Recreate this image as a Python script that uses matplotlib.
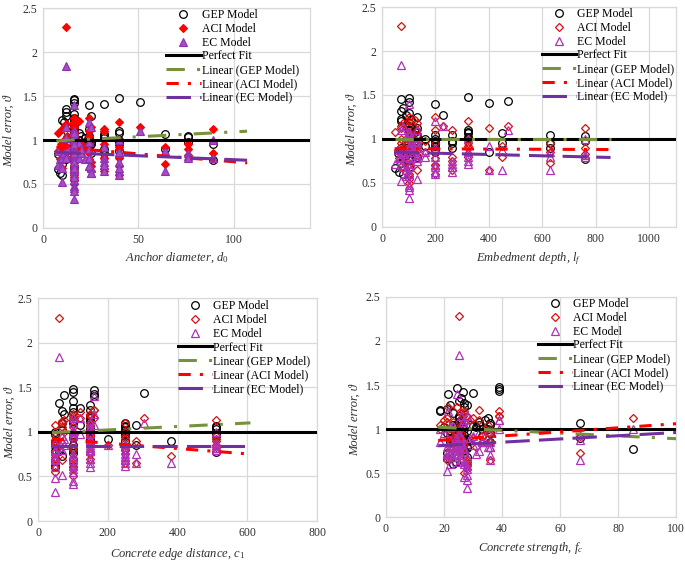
import matplotlib
matplotlib.use('Agg')
import matplotlib.pyplot as plt

plt.rcParams['font.family'] = ['Liberation Serif', 'DejaVu Serif']
plt.rcParams['mathtext.fontset'] = 'custom'
plt.rcParams['mathtext.rm'] = 'Liberation Serif'
plt.rcParams['mathtext.it'] = 'Liberation Serif:italic'

# Model error of each test specimen
gep = [0.67, 0.84, 0.62, 0.90, 1.23, 0.60, 1.20, 1.32, 1.27, 0.78, 1.10,
       1.47, 1.45, 1.30, 1.22, 1.15, 1.10, 1.05, 1.00, 0.95, 0.90, 0.85,
       0.80, 0.78, 0.76, 0.88, 1.02, 1.08, 1.00, 0.92, 1.02, 1.40, 1.05,
       1.00, 0.95, 1.27, 0.98, 0.96, 1.41, 1.07, 1.02, 0.85, 1.05, 1.48,
       1.10, 1.08, 0.95, 0.88, 0.98, 1.43, 1.07, 0.90, 1.05, 1.03, 0.98,
       0.95, 0.77,
       1.12, 0.98, 0.93, 0.87, 1.18, 0.82, 1.35, 0.97, 0.73, 1.25, 1.05,
       0.92, 1.12, 0.85, 1.42, 0.68, 1.00, 0.90]
aci = [1.08, 0.88, 0.78, 0.95, 1.12, 0.90, 1.00, 2.28, 0.93, 0.85, 1.05,
       1.25, 1.15, 1.20, 1.05, 0.98, 0.95, 0.88, 0.85, 0.80, 0.75, 0.70,
       0.65, 0.55, 0.50, 0.60, 1.10, 1.22, 0.98, 0.85, 0.90, 1.25, 1.10,
       0.95, 0.85, 1.15, 0.75, 0.65, 1.13, 0.95, 0.80, 0.65, 1.10, 1.20,
       1.00, 0.90, 0.80, 0.70, 0.60, 1.15, 0.92, 0.73, 0.95, 0.90, 0.83,
       0.85, 1.13,
       1.00, 0.90, 0.82, 0.72, 1.08, 0.62, 1.18, 0.87, 0.68, 1.18, 0.96,
       0.78, 1.05, 0.70, 1.15, 0.58, 0.92, 0.80]
ec = [0.72, 0.87, 0.78, 0.70, 0.80, 0.68, 0.85, 1.84, 1.02, 0.83, 0.90,
      1.40, 1.10, 1.05, 1.00, 0.92, 0.88, 0.82, 0.78, 0.72, 0.65, 0.60,
      0.55, 0.48, 0.45, 0.33, 0.95, 0.97, 0.80, 0.85, 0.78, 1.20, 0.90,
      0.80, 0.70, 1.15, 0.62, 0.68, 0.92, 0.80, 0.72, 0.65, 0.75, 1.00,
      0.85, 0.75, 0.65, 0.60, 0.68, 1.10, 0.88, 0.65, 0.85, 0.82, 0.80,
      0.80, 1.00,
      0.95, 0.85, 0.75, 0.68, 1.03, 0.58, 1.15, 0.80, 0.52, 1.10, 0.90,
      0.70, 0.98, 0.62, 1.08, 0.42, 0.86, 0.72]

# Specimen parameters
d0 = [8, 8, 9, 9.5, 10, 10, 11, 12, 12, 12, 12.7,
      16, 16, 16, 16, 16, 16, 16, 16, 16, 16, 16,
      16, 16, 16, 16, 16, 19, 19, 20, 22, 24, 24,
      24, 24, 25, 25, 25, 32, 32, 32, 32, 32, 40,
      40, 40, 40, 40, 40, 51, 64, 64, 76, 76, 76,
      89, 89,
      16, 16, 16, 16, 16, 16, 12, 12, 10, 16, 20,
      24, 24, 25, 16, 16, 40, 32]
lf = [50, 60, 65, 70, 70, 80, 70, 70, 90, 80, 100,
      100, 70, 100, 110, 100, 125, 130, 100, 110, 90, 100,
      130, 100, 100, 100, 130, 125, 160, 160, 130, 200, 200,
      200, 200, 230, 260, 260, 400, 320, 320, 400, 260, 320,
      320, 320, 450, 200, 200, 470, 450, 630, 630, 760, 760,
      630, 760,
      110, 120, 130, 100, 100, 90, 80, 90, 70, 130, 130,
      200, 130, 200, 100, 100, 320, 260]
c1 = [50, 50, 50, 50, 70, 50, 75, 60, 100, 60, 70,
      160, 100, 150, 100, 150, 100, 150, 50, 100, 150, 50,
      100, 50, 100, 50, 70, 120, 150, 200, 150, 160, 150,
      150, 150, 120, 250, 250, 75, 250, 250, 280, 250, 100,
      250, 280, 250, 150, 100, 305, 510, 380, 510, 510, 510,
      510, 510,
      100, 150, 100, 50, 150, 100, 100, 50, 70, 150, 150,
      150, 150, 100, 160, 100, 250, 250]
fc = [21, 22, 24, 22, 21, 23, 18.5, 25, 22, 24, 26,
      24.5, 39, 27, 18.5, 25, 26, 23, 27, 24, 26, 22,
      28, 28, 27, 28, 20, 32, 25, 33, 24, 21.5, 29,
      35, 36, 28, 25, 21, 30, 36, 31, 36, 32, 39,
      34, 25, 26, 27, 28, 39, 67, 67, 36, 30, 22,
      36, 85,
      25, 26, 27, 24, 23, 28, 26, 25, 21, 27, 24,
      26, 35, 27, 26.5, 28, 33, 22]

# Linear trendlines (end points)
d0_trend_x = [7, 107]
d0_trend_gep = [0.99, 1.10]
d0_trend_aci = [0.92, 0.74]
d0_trend_ec = [0.86, 0.77]
lf_trend_x = [47, 855]
lf_trend_gep = [1.00, 1.00]
lf_trend_aci = [0.89, 0.88]
lf_trend_ec = [0.85, 0.79]
c1_trend_x = [40, 609]
c1_trend_gep = [0.99, 1.10]
c1_trend_aci = [0.92, 0.75]
c1_trend_ec = [0.84, 0.84]
fc_trend_x = [18, 100]
fc_trend_gep = [1.02, 0.89]
fc_trend_aci = [0.87, 1.06]
fc_trend_ec = [0.81, 0.96]

GREEN = '#76923C'
RED = '#FF0000'
PURPLE = '#7030A0'
EC_OPEN = '#B030B8'
ACI_OPEN = '#D81010'

panels = [
    dict(x=d0, xmax=140, step=50, tx=d0_trend_x, tg=d0_trend_gep, ta=d0_trend_aci,
         te=d0_trend_ec, label=r'Anchor diameter, $\mathit{d_0}$', filled=True,
         pos=[0.0628, 0.5936, 0.3898, 0.3921], leg=(0.462, 0.995),
         xl=-0.10, yl=-0.105),
    dict(x=lf, xmax=1100, step=200, tx=lf_trend_x, tg=lf_trend_gep, ta=lf_trend_aci,
         te=lf_trend_ec, label=r'Embedment depth, $\mathit{l_f}$', filled=False,
         pos=[0.5577, 0.5954, 0.4292, 0.3921], leg=(0.544, 0.995),
         xl=-0.105, yl=-0.082),
    dict(x=c1, xmax=800, step=200, tx=c1_trend_x, tg=c1_trend_gep, ta=c1_trend_aci,
         te=c1_trend_ec, label=r'Concrete edge distance, $\mathit{c_1}$', filled=False,
         pos=[0.0555, 0.0713, 0.4073, 0.3975], leg=(0.502, 0.99),
         xl=-0.112, yl=-0.079),
    dict(x=fc, xmax=100, step=20, tx=fc_trend_x, tg=fc_trend_gep, ta=fc_trend_aci,
         te=fc_trend_ec, label=r'Concrete strength, $\mathit{f_c}$', filled=False,
         pos=[0.5635, 0.0784, 0.4234, 0.3922], leg=(0.524, 0.995),
         xl=-0.105, yl=-0.086),
]

fig = plt.figure(figsize=(6.85, 5.61), dpi=100)

for p in panels:
    ax = fig.add_axes(p['pos'])
    ax.set_xlim(0, p['xmax'])
    ax.set_ylim(0, 2.5)
    ax.set_xticks(range(0, p['xmax'] + 1, p['step']))
    ax.set_yticks([0, 0.5, 1, 1.5, 2, 2.5])
    ax.set_yticklabels(['0', '0.5', '1', '1.5', '2', '2.5'])
    ax.grid(True, color='#D9D9D9', lw=0.9)
    ax.set_axisbelow(True)
    for s in ax.spines.values():
        s.set_color('#D9D9D9')
        s.set_linewidth(0.9)
    ax.tick_params(length=0, labelsize=8.5, colors='#303030', pad=4)

    ax.plot(p['x'], gep, 'o', ms=5.5, mfc='none', mec='black', mew=0.9,
            label='GEP Model', zorder=3)
    if p['filled']:
        ax.plot(p['x'], aci, 'D', ms=4.5, mfc=RED, mec=RED, mew=0.8,
                label='ACI Model', zorder=3)
        ax.plot(p['x'], ec, '^', ms=5.5, mfc='#A64CC4', mec='#8E2FB0', mew=0.8,
                label='EC Model', zorder=3)
    else:
        ax.plot(p['x'], aci, 'D', ms=4.5, mfc='none', mec=ACI_OPEN, mew=0.9,
                label='ACI Model', zorder=3)
        ax.plot(p['x'], ec, '^', ms=5.5, mfc='none', mec=EC_OPEN, mew=0.9,
                label='EC Model', zorder=3)

    ax.plot([0, p['xmax']], [1, 1], color='black', lw=2.2, label='Perfect Fit', zorder=4)
    ax.plot(p['tx'], p['tg'], color=GREEN, lw=2.2, dashes=(6, 4, 1, 4),
            label='Linear (GEP Model)', zorder=5)
    ax.plot(p['tx'], p['ta'], color=RED, lw=2.2, dashes=(4, 3, 1, 3),
            label='Linear (ACI Model)', zorder=5)
    ax.plot(p['tx'], p['te'], color=PURPLE, lw=2.2, dashes=(8, 3),
            label='Linear (EC Model)', zorder=5)

    ax.set_xlabel(p['label'], fontsize=9, style='italic', color='#303030')
    ax.xaxis.set_label_coords(0.5, p['xl'])
    ax.set_ylabel('Model error, ϑ', fontsize=9, style='italic', color='#303030')
    ax.yaxis.set_label_coords(p['yl'], 0.44)

    ax.legend(loc='upper left', bbox_to_anchor=p['leg'], frameon=False,
              fontsize=8.5, handlelength=2.9, handletextpad=0.1,
              labelspacing=0.15, borderpad=0, borderaxespad=0, numpoints=1)

fig.savefig('out.png', dpi=100)
